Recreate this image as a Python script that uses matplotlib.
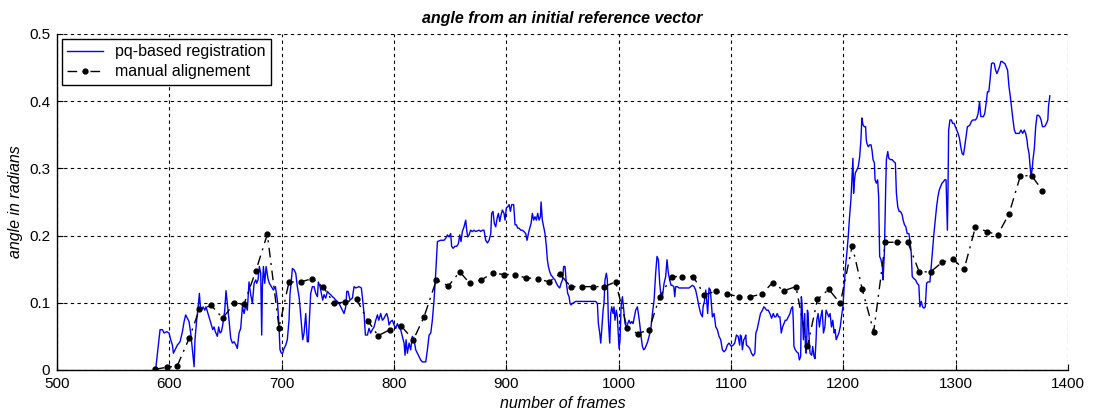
import matplotlib
matplotlib.use("Agg")
import matplotlib.pyplot as plt

plt.rcParams['font.family'] = ['Liberation Sans', 'DejaVu Sans']

# pq-based registration: angle (rad) vs frame number
pq_frames = [
    587.8, 591.7, 593.8, 595.3, 597.6, 599.7, 601.2, 602.7, 603.6, 605.6, 607.1, 609.5, 611.6, 613.1,
    614.5, 616.0, 617.5, 619.0, 620.5, 622.0, 622.8, 624.3, 625.8, 626.7, 627.6, 628.5, 630.0, 631.5,
    632.6, 634.4, 636.2, 637.4, 638.6, 639.8, 640.9, 642.7, 643.9, 645.1, 646.3, 647.5, 649.3, 650.4,
    651.6, 653.1, 654.6, 656.1, 657.6, 659.3, 660.5, 662.0, 663.5, 665.0, 666.5, 668.0, 669.4, 670.9,
    672.4, 673.9, 675.4, 676.9, 677.7, 678.9, 680.1, 681.3, 682.2, 682.8, 683.7, 684.9, 686.1, 687.8,
    689.0, 690.8, 692.6, 694.4, 696.1, 697.3, 698.5, 699.7, 700.9, 702.1, 703.6, 705.0, 706.5, 707.4,
    708.6, 709.5, 711.0, 712.5, 713.9, 715.4, 716.3, 717.5, 718.7, 719.9, 721.4, 722.8, 723.7, 724.6,
    725.8, 727.3, 728.8, 730.3, 731.8, 732.6, 734.1, 735.3, 736.5, 737.7, 739.2, 740.7, 742.1, 743.6,
    745.1, 746.6, 748.1, 749.6, 751.0, 752.5, 754.0, 755.5, 757.0, 757.9, 759.1, 760.8, 762.9, 764.4,
    765.9, 768.8, 770.9, 772.1, 773.3, 774.5, 776.3, 777.7, 779.2, 780.7, 782.2, 783.7, 785.2, 786.4,
    788.1, 789.6, 791.1, 792.6, 793.5, 794.7, 795.5, 797.0, 798.5, 800.0, 801.5, 803.0, 804.5, 805.9,
    807.4, 808.9, 809.8, 810.7, 811.9, 813.4, 814.8, 816.3, 817.8, 819.3, 820.8, 822.3, 823.7, 825.2,
    828.2, 829.7, 831.2, 832.7, 834.1, 835.6, 837.1, 838.6, 841.5, 844.5, 846.0, 847.5, 849.0, 850.4,
    851.3, 852.5, 854.3, 855.8, 857.3, 858.5, 859.6, 860.8, 862.3, 863.8, 864.7, 865.6, 866.8, 868.2,
    869.7, 871.2, 872.7, 874.2, 875.7, 877.2, 878.6, 880.1, 881.6, 883.1, 884.6, 886.1, 886.9, 888.1,
    889.3, 890.5, 892.0, 892.9, 894.1, 895.3, 896.4, 897.9, 898.8, 900.0, 901.2, 902.4, 903.6, 904.7,
    906.5, 907.7, 908.9, 910.1, 911.3, 912.8, 914.2, 915.7, 917.2, 918.4, 919.6, 920.8, 922.0, 923.1,
    924.3, 925.5, 926.7, 927.9, 929.1, 930.3, 930.9, 932.0, 933.2, 934.4, 935.6, 936.5, 937.4, 938.6,
    939.8, 940.9, 942.1, 943.3, 944.5, 946.3, 947.5, 948.7, 949.9, 951.0, 952.2, 953.4, 954.6, 955.8,
    956.7, 957.6, 958.8, 961.7, 964.7, 967.7, 970.6, 973.6, 976.6, 979.5, 981.0, 981.9, 983.1, 984.0,
    984.9, 986.1, 986.9, 987.8, 989.0, 989.9, 990.8, 992.0, 992.9, 993.8, 995.0, 995.8, 996.7, 997.9,
    998.8, 999.7, 1000.3, 1001.2, 1002.1, 1003.3, 1004.5, 1005.6, 1006.8, 1008.0, 1009.2, 1010.4,
    1011.6, 1012.8, 1013.9, 1015.1, 1016.6, 1017.5, 1018.7, 1019.9, 1021.1, 1022.3, 1023.4, 1024.6,
    1025.8, 1027.0, 1028.5, 1030.0, 1031.5, 1032.9, 1034.1, 1035.3, 1036.5, 1037.7, 1038.9, 1040.4,
    1041.8, 1043.0, 1044.2, 1045.4, 1046.6, 1047.8, 1049.0, 1049.9, 1050.7, 1052.2, 1053.7, 1056.7,
    1059.6, 1062.6, 1064.1, 1065.6, 1067.1, 1068.5, 1070.0, 1071.5, 1073.0, 1074.5, 1075.1, 1076.3,
    1077.5, 1078.3, 1079.2, 1080.4, 1081.6, 1082.5, 1083.4, 1084.9, 1086.4, 1087.8, 1089.3, 1090.8,
    1092.3, 1093.8, 1095.3, 1096.7, 1098.2, 1100.3, 1101.8, 1103.3, 1104.8, 1106.3, 1107.7, 1108.3,
    1109.2, 1110.1, 1111.3, 1112.2, 1113.1, 1113.7, 1115.2, 1116.7, 1118.2, 1119.7, 1121.2, 1122.1,
    1123.2, 1125.0, 1126.2, 1128.0, 1129.2, 1130.4, 1131.6, 1133.1, 1134.6, 1136.1, 1137.6, 1138.7,
    1139.9, 1141.1, 1142.3, 1143.5, 1144.7, 1145.9, 1147.1, 1148.3, 1149.5, 1151.0, 1152.5, 1153.7,
    1154.8, 1155.4, 1156.0, 1157.2, 1158.4, 1159.9, 1160.8, 1162.0, 1162.6, 1163.2, 1163.8, 1164.4,
    1165.6, 1166.2, 1166.8, 1167.4, 1168.0, 1168.6, 1169.1, 1170.3, 1171.8, 1172.7, 1173.9, 1174.8,
    1175.7, 1176.3, 1177.5, 1178.7, 1179.9, 1181.1, 1182.3, 1183.5, 1184.6, 1185.8, 1187.0, 1188.2,
    1189.4, 1190.6, 1191.8, 1192.7, 1193.6, 1194.8, 1196.0, 1197.2, 1198.7, 1199.6, 1200.7, 1201.9,
    1203.1, 1204.3, 1205.5, 1206.7, 1207.6, 1208.5, 1209.1, 1209.7, 1210.6, 1212.1, 1213.3, 1214.5,
    1215.6, 1216.5, 1217.4, 1218.6, 1219.8, 1220.4, 1221.0, 1222.2, 1223.4, 1224.6, 1225.5, 1226.4,
    1227.6, 1228.2, 1229.4, 1230.5, 1231.4, 1232.3, 1233.5, 1234.7, 1235.3, 1236.5, 1237.7, 1238.3,
    1239.5, 1240.4, 1241.9, 1243.4, 1244.9, 1246.3, 1247.2, 1248.4, 1249.6, 1250.8, 1252.3, 1253.2,
    1254.4, 1255.6, 1256.8, 1258.3, 1259.2, 1260.4, 1261.3, 1262.7, 1264.2, 1265.7, 1267.2, 1268.1,
    1269.3, 1270.5, 1271.7, 1272.9, 1274.1, 1275.3, 1277.0, 1278.2, 1279.4, 1280.6, 1281.8, 1283.0,
    1284.2, 1285.4, 1286.6, 1287.8, 1289.0, 1290.2, 1291.4, 1292.6, 1293.1, 1293.7, 1294.9, 1296.1,
    1297.3, 1298.5, 1299.7, 1300.9, 1302.1, 1303.3, 1304.5, 1305.7, 1306.9, 1308.0, 1309.2, 1310.4,
    1311.6, 1312.8, 1314.0, 1315.2, 1316.4, 1317.6, 1318.8, 1320.0, 1321.2, 1322.4, 1323.5, 1324.7,
    1325.9, 1327.1, 1328.3, 1329.5, 1330.7, 1331.9, 1333.1, 1334.3, 1335.5, 1336.7, 1337.9, 1339.0,
    1340.2, 1341.4, 1342.6, 1343.8, 1345.0, 1346.2, 1347.4, 1348.6, 1349.8, 1351.0, 1352.2, 1353.4,
    1355.1, 1356.6, 1358.1, 1359.6, 1361.1, 1362.3, 1363.5, 1364.1, 1365.3, 1366.2, 1367.1, 1368.0,
    1368.8, 1370.0, 1371.2, 1372.4, 1373.6, 1374.8, 1376.0, 1377.2, 1378.4, 1379.6, 1380.8, 1382.0,
    1382.6, 1383.8,
]
pq_angle = [
    0.001, 0.060, 0.060, 0.055, 0.057, 0.055, 0.045, 0.037, 0.025, 0.032, 0.037, 0.042, 0.057, 0.072,
    0.082, 0.077, 0.072, 0.055, 0.030, 0.005, 0.045, 0.074, 0.097, 0.114, 0.094, 0.089, 0.094, 0.089,
    0.094, 0.084, 0.074, 0.067, 0.060, 0.064, 0.057, 0.050, 0.064, 0.055, 0.057, 0.067, 0.089, 0.118,
    0.099, 0.074, 0.047, 0.040, 0.042, 0.037, 0.032, 0.055, 0.062, 0.094, 0.084, 0.097, 0.089, 0.131,
    0.112, 0.099, 0.129, 0.134, 0.129, 0.134, 0.154, 0.144, 0.052, 0.124, 0.154, 0.129, 0.154, 0.136,
    0.129, 0.124, 0.119, 0.124, 0.104, 0.074, 0.030, 0.025, 0.025, 0.032, 0.037, 0.045, 0.074, 0.114,
    0.134, 0.151, 0.149, 0.144, 0.124, 0.109, 0.094, 0.069, 0.045, 0.055, 0.084, 0.042, 0.042, 0.074,
    0.114, 0.124, 0.124, 0.114, 0.109, 0.131, 0.124, 0.114, 0.104, 0.112, 0.107, 0.117, 0.114, 0.112,
    0.109, 0.107, 0.104, 0.102, 0.099, 0.094, 0.089, 0.084, 0.094, 0.117, 0.117, 0.104, 0.107, 0.124,
    0.122, 0.124, 0.122, 0.104, 0.084, 0.052, 0.052, 0.062, 0.055, 0.060, 0.064, 0.074, 0.082, 0.074,
    0.084, 0.074, 0.077, 0.082, 0.084, 0.077, 0.067, 0.072, 0.074, 0.067, 0.062, 0.069, 0.062, 0.060,
    0.050, 0.040, 0.022, 0.045, 0.025, 0.040, 0.030, 0.050, 0.045, 0.030, 0.025, 0.020, 0.015, 0.012,
    0.012, 0.030, 0.052, 0.055, 0.074, 0.104, 0.144, 0.191, 0.193, 0.193, 0.196, 0.201, 0.198, 0.203,
    0.184, 0.181, 0.184, 0.184, 0.188, 0.201, 0.191, 0.206, 0.213, 0.223, 0.208, 0.198, 0.201, 0.208,
    0.206, 0.208, 0.206, 0.207, 0.208, 0.206, 0.208, 0.208, 0.193, 0.189, 0.193, 0.203, 0.233, 0.236,
    0.218, 0.213, 0.228, 0.233, 0.221, 0.231, 0.238, 0.233, 0.223, 0.241, 0.243, 0.246, 0.236, 0.246,
    0.246, 0.216, 0.216, 0.211, 0.211, 0.208, 0.208, 0.206, 0.203, 0.193, 0.203, 0.211, 0.218, 0.233,
    0.223, 0.228, 0.223, 0.233, 0.223, 0.228, 0.250, 0.223, 0.213, 0.203, 0.184, 0.164, 0.154, 0.146,
    0.141, 0.139, 0.136, 0.134, 0.129, 0.124, 0.122, 0.129, 0.134, 0.154, 0.154, 0.129, 0.114, 0.109,
    0.099, 0.097, 0.099, 0.102, 0.102, 0.102, 0.102, 0.102, 0.102, 0.102, 0.099, 0.069, 0.055, 0.040,
    0.060, 0.089, 0.099, 0.134, 0.144, 0.134, 0.074, 0.040, 0.084, 0.094, 0.084, 0.094, 0.074, 0.089,
    0.079, 0.050, 0.032, 0.045, 0.094, 0.109, 0.089, 0.069, 0.064, 0.069, 0.074, 0.069,
    0.072, 0.069, 0.079, 0.089, 0.094, 0.084, 0.069, 0.050, 0.035, 0.030, 0.032, 0.037,
    0.042, 0.050, 0.060, 0.084, 0.104, 0.144, 0.169, 0.164, 0.129, 0.109, 0.109, 0.129,
    0.139, 0.164, 0.144, 0.134, 0.126, 0.126, 0.124, 0.109, 0.124, 0.124, 0.122, 0.122,
    0.122, 0.122, 0.124, 0.126, 0.124, 0.119, 0.107, 0.094, 0.084, 0.079, 0.094, 0.102,
    0.119, 0.104, 0.084, 0.122, 0.119, 0.099, 0.079, 0.084, 0.064, 0.060, 0.050, 0.045,
    0.030, 0.027, 0.030, 0.037, 0.040, 0.035, 0.037, 0.040, 0.052, 0.050, 0.037, 0.052,
    0.050, 0.030, 0.045, 0.047, 0.052, 0.037, 0.035, 0.032, 0.025, 0.021, 0.025, 0.055,
    0.060, 0.074, 0.084, 0.089, 0.094, 0.092, 0.089, 0.089, 0.084, 0.077, 0.084, 0.079,
    0.079, 0.084, 0.079, 0.079, 0.055, 0.064, 0.069, 0.074, 0.074, 0.079, 0.084, 0.092,
    0.094, 0.074, 0.035, 0.030, 0.027, 0.025, 0.015, 0.020, 0.109, 0.099, 0.074, 0.045,
    0.084, 0.035, 0.025, 0.045, 0.089, 0.084, 0.060, 0.025, 0.022, 0.035, 0.020, 0.017,
    0.045, 0.074, 0.084, 0.064, 0.079, 0.089, 0.055, 0.064, 0.089, 0.084, 0.079, 0.084,
    0.064, 0.074, 0.055, 0.060, 0.045, 0.050, 0.055, 0.064, 0.084, 0.094, 0.124, 0.154,
    0.174, 0.198, 0.228, 0.253, 0.283, 0.315, 0.263, 0.278, 0.293, 0.298, 0.303, 0.317,
    0.342, 0.375, 0.365, 0.362, 0.362, 0.342, 0.337, 0.332, 0.335, 0.335, 0.327, 0.313,
    0.308, 0.283, 0.278, 0.283, 0.258, 0.169, 0.164, 0.154, 0.134, 0.174, 0.273, 0.313,
    0.325, 0.315, 0.313, 0.313, 0.310, 0.308, 0.263, 0.243, 0.236, 0.236, 0.231, 0.223,
    0.216, 0.213, 0.203, 0.203, 0.193, 0.174, 0.139, 0.136, 0.134, 0.129, 0.126, 0.094,
    0.102, 0.094, 0.092, 0.094, 0.129, 0.131, 0.131, 0.154, 0.179, 0.203, 0.223, 0.243,
    0.258, 0.268, 0.273, 0.278, 0.280, 0.283, 0.283, 0.208, 0.263, 0.357, 0.372, 0.372,
    0.367, 0.367, 0.362, 0.357, 0.352, 0.345, 0.332, 0.322, 0.320, 0.332, 0.347, 0.362,
    0.363, 0.365, 0.370, 0.372, 0.372, 0.372, 0.375, 0.382, 0.399, 0.377, 0.377, 0.377,
    0.382, 0.397, 0.414, 0.414, 0.434, 0.456, 0.457, 0.456, 0.446, 0.441, 0.446, 0.451,
    0.459, 0.459, 0.457, 0.456, 0.451, 0.446, 0.422, 0.407, 0.389, 0.372, 0.357, 0.352,
    0.352, 0.352, 0.357, 0.352, 0.357, 0.352, 0.342, 0.332, 0.322, 0.303, 0.288, 0.298,
    0.313, 0.330, 0.362, 0.379, 0.379, 0.377, 0.372, 0.362, 0.362, 0.363, 0.367, 0.372,
    0.392, 0.408,
]

# manual alignement, sampled about every 10 frames
manual_frames = [
    587.0, 597.6, 607.0, 617.8, 626.7, 637.4, 647.5, 657.6, 666.5, 676.9, 687.2, 697.6, 706.5, 716.9,
    727.3, 737.1, 746.6, 756.0, 766.7, 776.8, 785.8, 796.4, 806.5, 817.2, 826.7, 837.7, 848.4, 858.5,
    867.4, 877.4, 888.1, 898.2, 907.7, 917.2, 927.9, 938.0, 947.5, 957.3, 967.7, 977.2, 987.0, 997.3,
    1007.4, 1016.9, 1027.0, 1036.5, 1047.2, 1056.7, 1066.2, 1076.3, 1086.4, 1096.5, 1107.2, 1117.3,
    1127.4, 1137.0, 1147.1, 1157.8, 1168.0, 1176.9, 1187.0, 1197.2, 1207.9, 1216.8, 1227.0, 1237.4,
    1247.8, 1257.4, 1267.5, 1277.6, 1287.8, 1297.3, 1307.5, 1317.6, 1327.7, 1337.3, 1347.4, 1357.6,
    1367.7, 1377.2,
]
manual_angle = [
    0.001, 0.004, 0.006, 0.048, 0.090, 0.096, 0.077, 0.099, 0.098, 0.147, 0.202, 0.063, 0.131, 0.131,
    0.136, 0.123, 0.099, 0.101, 0.105, 0.073, 0.051, 0.060, 0.065, 0.045, 0.079, 0.134, 0.125, 0.146,
    0.129, 0.134, 0.144, 0.142, 0.142, 0.137, 0.136, 0.131, 0.143, 0.124, 0.124, 0.124, 0.124, 0.131,
    0.063, 0.054, 0.060, 0.109, 0.139, 0.139, 0.139, 0.112, 0.117, 0.113, 0.109, 0.109,
    0.113, 0.130, 0.118, 0.124, 0.035, 0.105, 0.120, 0.099, 0.185, 0.120, 0.057, 0.190,
    0.190, 0.190, 0.146, 0.146, 0.160, 0.165, 0.150, 0.213, 0.206, 0.201, 0.232, 0.289,
    0.289, 0.267,
]

x_ticks = [500, 600, 700, 800, 900, 1000, 1100, 1200, 1300, 1400]
y_ticks = [0, 0.1, 0.2, 0.3, 0.4, 0.5]
y_tick_labels = ["0", "0.1", "0.2", "0.3", "0.4", "0.5"]

fig = plt.figure(figsize=(10.97, 4.19), dpi=100)
ax = fig.add_axes([0.052, 0.117, 0.9216, 0.802])

ax.plot(pq_frames, pq_angle, color="#0000ff", lw=1.0, label="pq-based registration")
ax.plot(manual_frames, manual_angle, color="black", lw=1.0, linestyle=(0, (7, 4, 1.5, 4)),
        marker=".", markersize=7, label="manual alignement")

ax.set_xlim(500, 1400)
ax.set_ylim(0, 0.5)
ax.set_xticks(x_ticks)
ax.set_yticks(y_ticks)
ax.set_yticklabels(y_tick_labels)
ax.tick_params(direction="in", length=4, labelsize=11, color="black")
ax.tick_params(axis="x", pad=5)
ax.tick_params(axis="y", pad=5)
ax.grid(True, color="black", linestyle=(0, (3, 3)), linewidth=0.8)

for side in ("top", "right"):
    ax.spines[side].set_visible(False)
for side in ("left", "bottom"):
    ax.spines[side].set_linewidth(1.0)
    ax.spines[side].set_color("black")

ax.set_title("angle from an initial reference vector", fontsize=11.5, fontweight="bold",
             fontstyle="italic", pad=8)
ax.set_xlabel("number of frames", fontsize=11.5, fontstyle="italic", labelpad=4)
ax.set_ylabel("angle in radians", fontsize=11.5, fontstyle="italic", labelpad=4)

leg = ax.legend(loc="upper left", fontsize=11.5, fancybox=False, edgecolor="black",
                framealpha=1, borderaxespad=0.3, handlelength=2.2, labelspacing=0.3,
                borderpad=0.35)
leg.get_frame().set_linewidth(1.0)

fig.savefig("out.png", dpi=100)
